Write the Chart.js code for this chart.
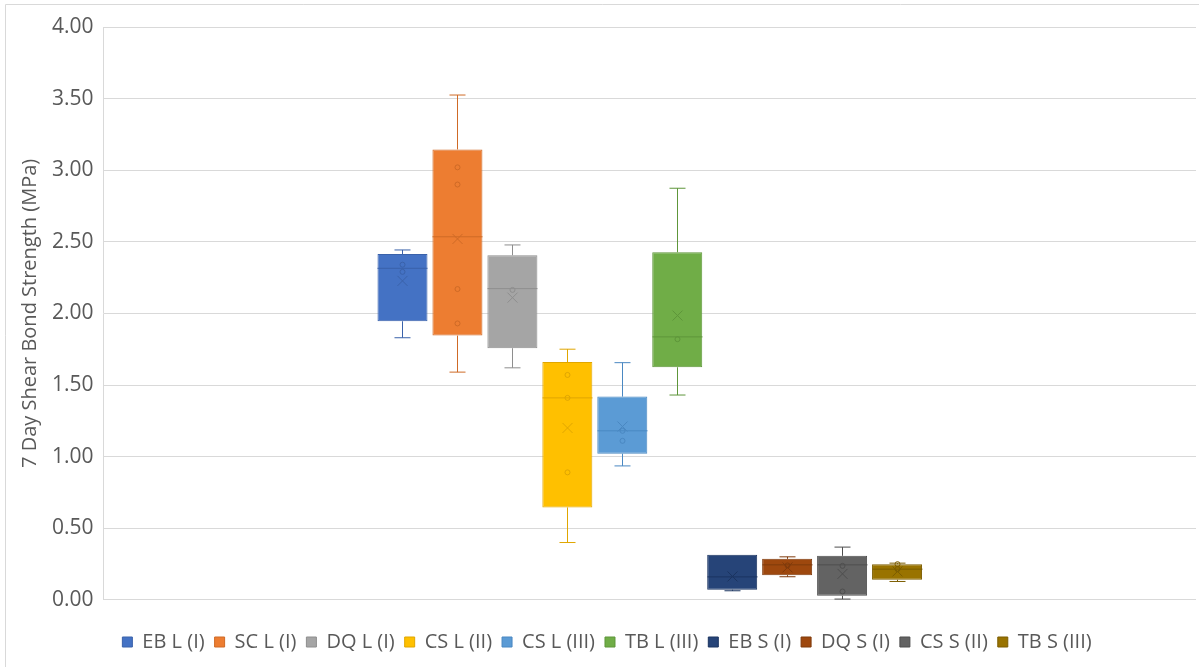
<!DOCTYPE html>
<html>
<head>
<meta charset="utf-8">
<script src="https://cdn.jsdelivr.net/npm/chart.js@4.4.1/dist/chart.umd.min.js"></script>
<style>
  html, body { margin: 0; padding: 0; background: #ffffff; }
  #wrap { position: relative; width: 1199px; height: 667px; }
</style>
</head>
<body>
<div id="wrap"><canvas id="chart" width="1199" height="667"></canvas></div>
<script>
// Series (one box per mix)
const seriesNames = ['EB L (I)', 'SC L (I)', 'DQ L (I)', 'CS L (II)', 'CS L (III)', 'TB L (III)',
                     'EB S (I)', 'DQ S (I)', 'CS S (II)', 'TB S (III)'];
const fillColors   = ['#4472C4', '#ED7D31', '#A5A5A5', '#FFC000', '#5B9BD5', '#70AD47',
                      '#264478', '#9E480E', '#636363', '#997300'];
const lineColors   = ['#3A62AA', '#CF6A26', '#8E8E8E', '#E0A600', '#4A88C2', '#5E963A',
                      '#1B3460', '#7F3A0B', '#4E4E4E', '#7C5D00'];

// Box statistics, MPa
const whiskerLow  = [1.83, 1.59, 1.62, 0.40, 0.935, 1.43, 0.063, 0.161, 0.005, 0.128];
const q1          = [1.945, 1.845, 1.757, 0.645, 1.02, 1.624, 0.07, 0.172, 0.028, 0.14];
const median      = [2.315, 2.535, 2.173, 1.41, 1.18, 1.836, 0.16, 0.244, 0.244, 0.214];
const q3          = [2.415, 3.145, 2.406, 1.66, 1.419, 2.427, 0.314, 0.286, 0.307, 0.249];
const whiskerHigh = [2.443, 3.525, 2.478, 1.75, 1.656, 2.874, 0.314, 0.300, 0.368, 0.256];
const means       = [2.227, 2.52, 2.11, 1.20, 1.21, 1.985, 0.163, 0.226, 0.181, 0.198];
const innerPoints = [[2.34, 2.29], [3.02, 2.90, 2.17, 1.93], [2.164], [1.57, 1.41, 0.89],
                     [1.18, 1.11], [1.82], [], [0.24], [0.237, 0.058], [0.249, 0.214]];

// Y axis ticks
const yMin = 0, yMax = 4, yStep = 0.5;
const yTitle = '7 Day Shear Bond Strength (MPa)';

const FONT = "'Open Sans', 'Liberation Sans', sans-serif";
const TEXT = '#595959';

// Light frame around the chart
const framePlugin = {
  id: 'frame',
  beforeDraw(chart) {
    const ctx = chart.ctx;
    ctx.save();
    ctx.strokeStyle = '#d9d9d9';
    ctx.lineWidth = 1;
    ctx.beginPath();
    ctx.moveTo(5.5, chart.height);
    ctx.lineTo(5.5, 4.5);
    ctx.lineTo(chart.width, 4.5);
    ctx.stroke();
    ctx.restore();
  }
};

// Whiskers, median line, mean cross and inner points for each box
const boxPlugin = {
  id: 'boxExtras',
  afterDatasetsDraw(chart) {
    const ctx = chart.ctx;
    const ys = chart.scales.y;
    ctx.save();
    chart.data.datasets.forEach((ds, i) => {
      const meta = chart.getDatasetMeta(i);
      if (meta.hidden) return;
      const bar = meta.data[0];
      const x = Math.round(bar.x) + 0.5;
      const half = bar.width / 2;
      const cap = bar.width * 0.16;
      const col = lineColors[i];
      ctx.strokeStyle = col;
      ctx.lineWidth = 1;

      const yHi = ys.getPixelForValue(whiskerHigh[i]);
      const yQ3 = ys.getPixelForValue(q3[i]);
      const yQ1 = ys.getPixelForValue(q1[i]);
      const yLo = ys.getPixelForValue(whiskerLow[i]);
      ctx.beginPath();
      if (whiskerHigh[i] > q3[i]) {
        ctx.moveTo(x, yQ3); ctx.lineTo(x, yHi);
        ctx.moveTo(x - cap, yHi); ctx.lineTo(x + cap, yHi);
      }
      if (whiskerLow[i] < q1[i]) {
        ctx.moveTo(x, yQ1); ctx.lineTo(x, yLo);
        ctx.moveTo(x - cap, yLo); ctx.lineTo(x + cap, yLo);
      }
      // median
      const yMed = ys.getPixelForValue(median[i]);
      ctx.moveTo(x - half, yMed); ctx.lineTo(x + half, yMed);
      ctx.stroke();

      // mean marker
      const yMean = ys.getPixelForValue(means[i]);
      const m = 5;
      ctx.beginPath();
      ctx.moveTo(x - m, yMean - m); ctx.lineTo(x + m, yMean + m);
      ctx.moveTo(x - m, yMean + m); ctx.lineTo(x + m, yMean - m);
      ctx.stroke();

      // inner points
      innerPoints[i].forEach(v => {
        const py = ys.getPixelForValue(v);
        ctx.beginPath();
        ctx.arc(x, py, 2.5, 0, Math.PI * 2);
        ctx.stroke();
      });
    });
    ctx.restore();
  }
};

const datasets = seriesNames.map((name, i) => ({
  label: name,
  data: [[q1[i], q3[i]]],
  backgroundColor: fillColors[i],
  borderColor: lineColors[i],
  borderWidth: 1,
  borderSkipped: false,
  categoryPercentage: 0.503,
  barPercentage: 0.91
}));

new Chart(document.getElementById('chart'), {
  type: 'bar',
  data: { labels: [''], datasets },
  plugins: [framePlugin, boxPlugin],
  options: {
    responsive: false,
    animation: false,
    layout: { padding: { left: 18, right: 3, top: 27, bottom: 5 } },
    plugins: {
      tooltip: { enabled: false },
      legend: {
        position: 'bottom',
        title: { display: true, text: '', font: { size: 1 }, padding: { top: 21, bottom: 0 } },
        labels: {
          boxWidth: 10, boxHeight: 10, padding: 10,
          color: TEXT,
          font: { family: FONT, size: 20 }
        }
      }
    },
    scales: {
      x: { display: false },
      y: {
        min: yMin, max: yMax,
        ticks: {
          stepSize: yStep,
          color: TEXT,
          padding: 10,
          font: { family: FONT, size: 21 },
          callback: v => Number(v).toFixed(2)
        },
        grid: { color: '#d9d9d9', drawTicks: false },
        border: { display: true, color: '#d9d9d9' },
        title: {
          display: true, text: yTitle, color: TEXT,
          font: { family: FONT, size: 20 }, padding: { top: 0, bottom: 0 }
        }
      }
    }
  }
});
</script>
</body>
</html>
